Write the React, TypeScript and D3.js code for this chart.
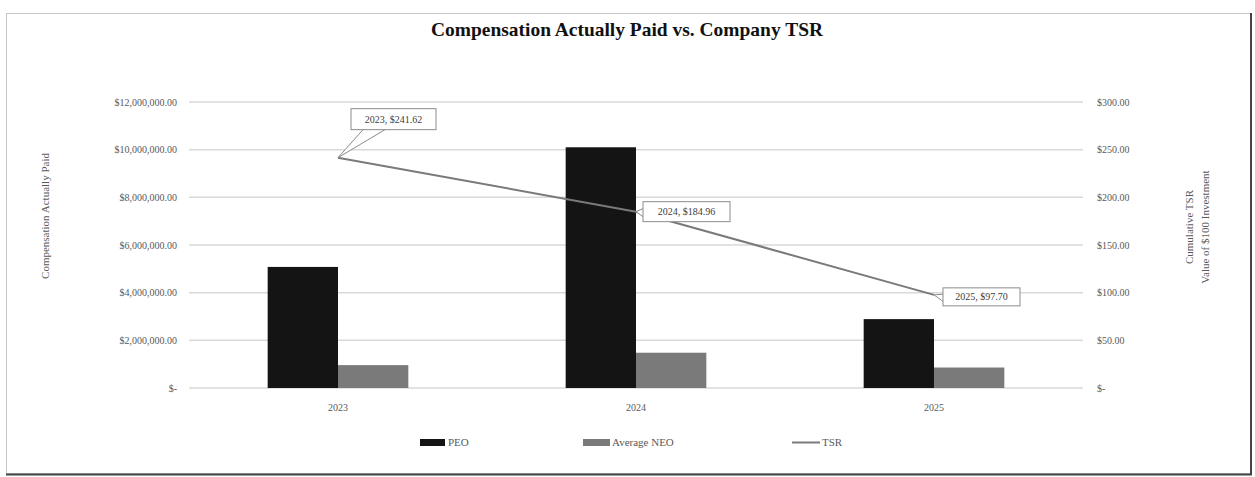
import React from 'react';
import * as d3 from 'd3';

const years = ['2023', '2024', '2025'];
const peoValues = [5080000, 10100000, 2890000];
const neoValues = [960000, 1480000, 860000];
const tsrValues = [241.62, 184.96, 97.7];
const leftTicks = [0, 2000000, 4000000, 6000000, 8000000, 10000000, 12000000];
const rightTicks = [0, 50, 100, 150, 200, 250, 300];
const legendItems = ['PEO', 'Average NEO', 'TSR'];

const W = 1255;
const H = 477;
const plot = { left: 189, right: 1083, top: 102, bottom: 388 };

const serif = '"Liberation Serif", "Times New Roman", serif';
const tickColor = '#595959';

const fmtLeft = (v: number) => (v === 0 ? '$-' : '$' + d3.format(',.2f')(v));
const fmtRight = (v: number) => (v === 0 ? '$-' : '$' + d3.format('.2f')(v));

// label box placement relative to each TSR point (dx, dy, width, height)
const labelBoxes = [
  { dx: 13, dy: -49, w: 85, h: 21 },
  { dx: 7, dy: -10, w: 87, h: 20 },
  { dx: 9, dy: -7, w: 77, h: 18 },
];

export default function App() {
  const x = d3.scaleBand<string>().domain(years).range([plot.left, plot.right]);
  const yL = d3.scaleLinear().domain([0, 12000000]).range([plot.bottom, plot.top]);
  const yR = d3.scaleLinear().domain([0, 300]).range([plot.bottom, plot.top]);
  const barW = x.bandwidth() * 0.236;
  const cx = (yr: string) => (x(yr) as number) + x.bandwidth() / 2;

  const line = d3.line<number>()
    .x((_, i) => cx(years[i]))
    .y(d => yR(d));

  return (
    <svg width={W} height={H} style={{ position: 'absolute', left: 0, top: 0, background: '#fff' }}>
      {/* chart frame */}
      <rect x={6.5} y={13.5} width={1244} height={460} fill="#fff" stroke="#c8c8c8" />
      <line x1={1251} y1={13} x2={1251} y2={475} stroke="#444" strokeWidth={2} />
      <line x1={6} y1={474.5} x2={1252} y2={474.5} stroke="#444" strokeWidth={2} />

      <text x={627} y={36} textAnchor="middle" fontFamily={serif} fontWeight="bold" fontSize={19}
        textLength={392} lengthAdjust="spacingAndGlyphs" fill="#111">
        Compensation Actually Paid vs. Company TSR
      </text>

      {/* gridlines */}
      {leftTicks.map(t => (
        <line key={t} x1={plot.left} x2={plot.right} y1={yL(t)} y2={yL(t)} stroke="#d9d9d9" strokeWidth={1.5} />
      ))}

      {/* left ticks */}
      {leftTicks.map(t => (
        <text key={t} x={177} y={yL(t) + 3.5} textAnchor="end" fontFamily={serif} fontSize={10} fill={tickColor}>
          {fmtLeft(t)}
        </text>
      ))}
      {/* right ticks */}
      {rightTicks.map(t => (
        <text key={t} x={1097} y={yR(t) + 3.5} textAnchor="start" fontFamily={serif} fontSize={10} fill={tickColor}>
          {fmtRight(t)}
        </text>
      ))}

      {/* axis titles */}
      <text transform={`translate(49,216) rotate(-90)`} textAnchor="middle" fontFamily={serif} fontSize={11} fill={tickColor}>
        Compensation Actually Paid
      </text>
      <text transform={`translate(1193,227) rotate(-90)`} textAnchor="middle" fontFamily={serif} fontSize={11} fill={tickColor}>
        Cumulative TSR
      </text>
      <text transform={`translate(1209,227) rotate(-90)`} textAnchor="middle" fontFamily={serif} fontSize={11} fill={tickColor}>
        Value of $100 Investment
      </text>

      {/* bars */}
      {years.map((yr, i) => (
        <g key={yr}>
          <rect x={cx(yr) - barW} y={yL(peoValues[i])} width={barW} height={yL(0) - yL(peoValues[i])} fill="#141414" />
          <rect x={cx(yr)} y={yL(neoValues[i])} width={barW} height={yL(0) - yL(neoValues[i])} fill="#7a7a7a" />
          <text x={cx(yr)} y={411} textAnchor="middle" fontFamily={serif} fontSize={10} fill={tickColor}>{yr}</text>
        </g>
      ))}

      {/* TSR line */}
      <path d={line(tsrValues) as string} fill="none" stroke="#7a7a7a" strokeWidth={2} />

      {/* data labels */}
      {tsrValues.map((v, i) => {
        const px = cx(years[i]);
        const py = yR(v);
        const b = labelBoxes[i];
        const bx = px + b.dx;
        const by = py + b.dy;
        const callout = i === 0
          ? `M${bx + 12},${by + b.h} L${px},${py} L${bx + 34},${by + b.h}`
          : `M${bx},${by + b.h * 0.35} L${px},${py} L${bx},${by + b.h * 0.75}`;
        return (
          <g key={i}>
            <path d={callout} fill="#fff" stroke="#8c8c8c" strokeWidth={1} />
            <rect x={bx} y={by} width={b.w} height={b.h} fill="#fff" stroke="#8c8c8c" strokeWidth={1} />
            <text x={bx + b.w / 2} y={by + b.h / 2 + 3.5} textAnchor="middle" fontFamily={serif} fontSize={10} fill="#404040">
              {`${years[i]},  $${d3.format('.2f')(v)}`}
            </text>
          </g>
        );
      })}

      {/* legend */}
      <rect x={420} y={439} width={25} height={7} fill="#141414" />
      <text x={448} y={446} fontFamily={serif} fontSize={11} fill={tickColor}>{legendItems[0]}</text>
      <rect x={583} y={439} width={27} height={7} fill="#7a7a7a" />
      <text x={612} y={446} fontFamily={serif} fontSize={11} fill={tickColor}>{legendItems[1]}</text>
      <line x1={792} x2={820} y1={442.5} y2={442.5} stroke="#7a7a7a" strokeWidth={2} />
      <text x={822} y={446} fontFamily={serif} fontSize={11} fill={tickColor}>{legendItems[2]}</text>
    </svg>
  );
}
